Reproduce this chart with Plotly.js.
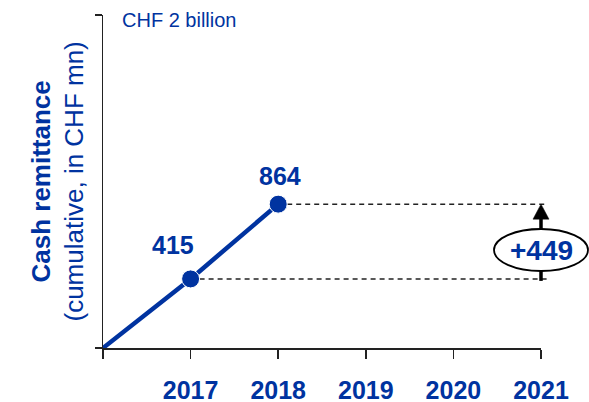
<!DOCTYPE html>
<html>
<head>
<meta charset="utf-8">
<script src="https://cdn.plot.ly/plotly-3.0.1.min.js"></script>
<style>html,body{margin:0;padding:0;background:#fff;}#chart{width:589px;height:402px;}</style>
</head>
<body>
<div id="chart"></div>
<script>
// ---- data ----
const years = [2016, 2017, 2018];
const remittance = [0, 415, 864];
const axisYears = [2016, 2017, 2018, 2019, 2020, 2021];
const axisLabels = ['', '2017', '2018', '2019', '2020', '2021'];
const yMax = 2000;
const scaleLabel = 'CHF 2 billion';
const titleMain = 'Cash remittance';
const titleSub = '(cumulative, in CHF mn)';

// ---- styling ----
const BLUE = '#0033a0';
const FONT = '"Liberation Sans", Arial, sans-serif';
const xMin = axisYears[0], xMax = axisYears[axisYears.length - 1];
const xp = v => (v - xMin) / (xMax - xMin);
const yp = v => v / yMax;

const lastIdx = remittance.length - 1;
const vLow = remittance[lastIdx - 1], vHigh = remittance[lastIdx];
const delta = vHigh - vLow;
const yMid = (yp(vLow) + yp(vHigh)) / 2;

const trace = {
  x: years, y: remittance, type: 'scatter', mode: 'lines+markers',
  line: {color: BLUE, width: 4.5},
  marker: {color: BLUE, opacity: 1, size: remittance.map((v, i) => i === 0 ? 0 : 18)},
  cliponaxis: false, hoverinfo: 'skip'
};

const shapes = [
  {type: 'line', xref: 'paper', yref: 'paper', x0: xp(years[lastIdx]), x1: 1 + 4/438, y0: yp(vHigh), y1: yp(vHigh),
   line: {color: '#222', width: 1.5, dash: '5px,4px'}, layer: 'below'},
  {type: 'line', xref: 'paper', yref: 'paper', x0: xp(years[lastIdx - 1]), x1: 1 + 7/438, y0: yp(vLow), y1: yp(vLow),
   line: {color: '#222', width: 1.5, dash: '5px,4px'}, layer: 'below'},
  {type: 'line', xref: 'paper', yref: 'paper', x0: 1, x1: 1, y0: yp(vLow) - 2/333, y1: yp(vHigh) - 12/333,
   line: {color: '#000', width: 3.5}, layer: 'above'},
  {type: 'path', xref: 'paper', yref: 'paper', xsizemode: 'pixel', ysizemode: 'pixel',
   xanchor: 1, yanchor: yp(vHigh), path: 'M -8,-15 L 8,-15 L 0,0 Z',
   fillcolor: '#000', line: {color: '#000', width: 0.5}, layer: 'above'},
  {type: 'circle', xref: 'paper', yref: 'paper', xsizemode: 'pixel', ysizemode: 'pixel',
   xanchor: 1, yanchor: yMid, x0: -47, x1: 47, y0: -29.5, y1: 12.5,
   fillcolor: '#fff', line: {color: '#000', width: 1.8}, layer: 'above'}
];

const annotations = [
  {xref: 'x', yref: 'y', x: years[1], y: remittance[1], text: String(remittance[1]), showarrow: false,
   xshift: -18, yshift: 34, font: {family: FONT, size: 25, color: BLUE, weight: 'bold'}},
  {xref: 'x', yref: 'y', x: years[2], y: remittance[2], text: String(remittance[2]), showarrow: false,
   xshift: 2, yshift: 28, font: {family: FONT, size: 25, color: BLUE, weight: 'bold'}},
  {xref: 'paper', yref: 'paper', x: 1, y: yMid, xanchor: 'center', yanchor: 'middle', yshift: -9,
   text: '+' + delta, showarrow: false,
   font: {family: FONT, size: 28, color: BLUE, weight: 'bold'}},
  {xref: 'paper', yref: 'paper', x: 17/438, y: 1 - 5/333, xanchor: 'left', yanchor: 'middle',
   text: scaleLabel, showarrow: false, font: {family: FONT, size: 20, color: BLUE}},
  {xref: 'paper', yref: 'paper', x: -46/438, y: 0.5, xanchor: 'center', yanchor: 'middle', textangle: -90,
   text: '<b>' + titleMain + '</b><br>' + titleSub, showarrow: false,
   font: {family: FONT, size: 26, color: BLUE}}
];

const layout = {
  width: 589, height: 402,
  margin: {l: 103, r: 48, t: 15, b: 54},
  paper_bgcolor: '#fff', plot_bgcolor: '#fff',
  showlegend: false, hovermode: false,
  xaxis: {
    range: [xMin, xMax], tickmode: 'array', tickvals: axisYears, ticktext: axisLabels,
    showgrid: false, zeroline: false, showline: true, linecolor: '#222', linewidth: 1.5,
    ticks: 'outside', ticklen: 9, tickwidth: 1.5, tickcolor: '#222', ticklabelstandoff: 10,
    tickfont: {family: FONT, size: 25, color: BLUE, weight: 'bold'}, fixedrange: true
  },
  yaxis: {
    range: [0, yMax], tickmode: 'array', tickvals: [0, yMax], ticktext: ['', ''],
    showgrid: false, zeroline: false, showline: true, linecolor: '#222', linewidth: 1.5,
    ticks: 'outside', ticklen: 7, tickwidth: 1.5, tickcolor: '#222', fixedrange: true
  },
  shapes: shapes,
  annotations: annotations
};

Plotly.newPlot('chart', [trace], layout, {displayModeBar: false, staticPlot: true});
</script>
</body>
</html>
